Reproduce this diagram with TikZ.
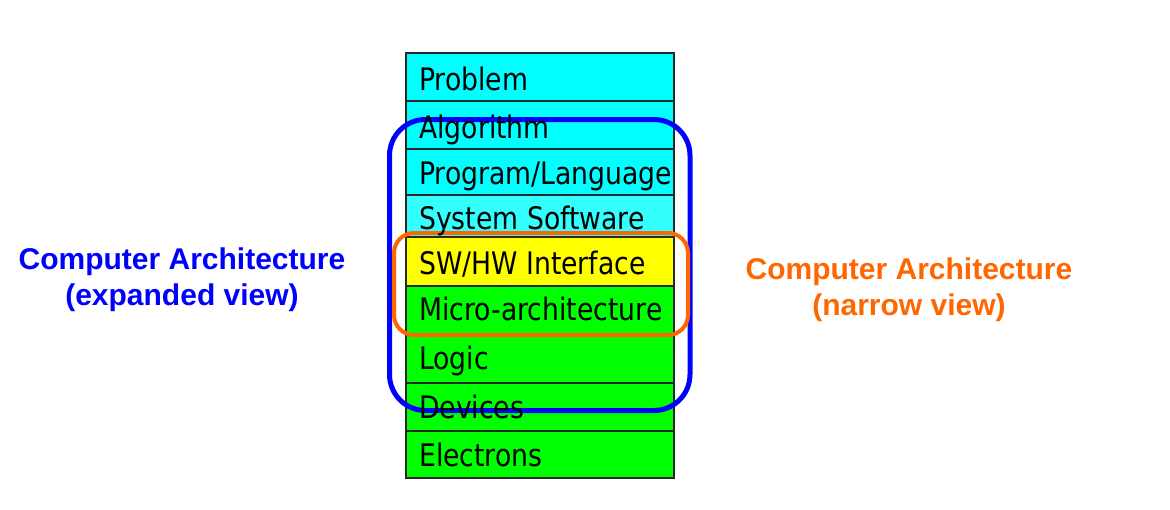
\documentclass[tikz,border=0pt]{standalone}
\usepackage{fontspec}
\setmainfont{Liberation Sans}
\newfontfamily\boxfont[FakeStretch=0.86]{DejaVu Sans}
\definecolor{cyanfill}{RGB}{0,255,255}
\definecolor{syscyan}{RGB}{51,255,255}
\definecolor{greenfill}{RGB}{0,255,0}
\definecolor{yellowfill}{RGB}{255,255,0}
\definecolor{rowline}{RGB}{40,40,40}
\definecolor{bluec}{RGB}{0,0,255}
\definecolor{orangec}{RGB}{255,102,0}
\begin{document}
\begin{tikzpicture}[x=1pt,y=-1pt,
  rowbox/.style={draw=rowline,line width=1.2pt},
  rowtext/.style={anchor=base west,inner sep=0pt,font=\boxfont\fontsize{31}{31}\selectfont},
  sidelabel/.style={align=center,font=\bfseries\fontsize{30}{36}\selectfont,inner sep=0pt}]
\useasboundingbox (0,0) rectangle (1170,509);
\fill[white] (0,0) rectangle (1170,509);
% rows
\path[rowbox,fill=cyanfill] (406,53) rectangle (674,101) coordinate (r1);
\path[rowbox,fill=cyanfill] (406,101) rectangle (674,149) coordinate (r2);
\path[rowbox,fill=cyanfill] (406,149) rectangle (674,195) coordinate (r3);
\path[rowbox,fill=syscyan] (406,195) rectangle (674,237) coordinate (r4);
\path[rowbox,fill=yellowfill] (406,237) rectangle (674,286) coordinate (r5);
\path[rowbox,fill=greenfill] (406,286) rectangle (674,334) coordinate (r6);
\path[rowbox,fill=greenfill] (406,334) rectangle (674,383) coordinate (r7);
\path[rowbox,fill=greenfill] (406,383) rectangle (674,431) coordinate (r8);
\path[rowbox,fill=greenfill] (406,431) rectangle (674,478) coordinate (r9);
% enclosing frames
\draw[bluec,line width=5pt,rounded corners=36pt] (389.5,119.5) rectangle (690,410.5);
\draw[orangec,line width=4pt,rounded corners=20pt] (394,233) rectangle (688,335);
% row texts
\node[rowtext] (t1) at (419,90) {Problem};
\node[rowtext] (t2) at (419,138) {Algorithm};
\node[rowtext] (t3) at (419,184) {Program/Language};
\node[rowtext] (t4) at (419,229) {System Software};
\node[rowtext] (t5) at (419,274) {SW/HW Interface};
\node[rowtext] (t6) at (419,320) {Micro-architecture};
\node[rowtext] (t7) at (419,369) {Logic};
\node[rowtext] (t8) at (419,418) {Devices};
\node[rowtext] (t9) at (419,466) {Electrons};
% side labels
\node[sidelabel,text=bluec] (expanded) at (182,280) {Computer Architecture\\(expanded view)};
\node[sidelabel,text=orangec] (narrow) at (909,290) {Computer Architecture\\(narrow view)};
\end{tikzpicture}
\end{document}
